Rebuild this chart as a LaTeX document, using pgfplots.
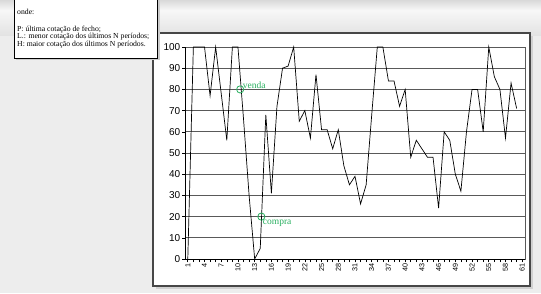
\documentclass[border=0pt]{standalone}
\usepackage{pgfplots}
\pgfplotsset{compat=1.18}
\usepackage{fontspec}
\setmainfont{Liberation Serif}
\newfontfamily\arial{Liberation Sans}
\definecolor{sig}{RGB}{40,175,95}
\pgfplotstableread{
n v
1 0
2 100
3 100
4 100
5 77
6 100
7 78
8 56
9 100
10 100
11 66
12 30
13 0
14 5
15 68
16 31
17 72
18 90
19 91
20 100
21 65
22 70
23 57
24 87
25 61
26 61
27 52
28 61
29 44
30 35
31 39
32 26
33 35
34 68
35 100
36 100
37 84
38 84
39 72
40 80
41 48
42 56
43 52
44 48
45 48
46 24
47 60
48 56
49 40
50 32
51 60
52 80
53 80
54 60
55 100
56 86
57 80
58 57
59 83
60 71
}\datatable
\begin{document}
\begin{tikzpicture}[x=1pt,y=1pt]
\useasboundingbox (0,0) rectangle (541,293);
% background
\fill[black!7] (0,0) rectangle (541,293);
\shade[top color=black!15, bottom color=black!3] (0,293) rectangle (541,283);
\shade[top color=black!3, bottom color=black!11] (0,283) rectangle (541,258);
% frame with shadow
\fill[black!18] (156,4) rectangle (533,257);
\draw[line width=1.4pt, black!72, fill=white] (153,7) rectangle (530,260);
\begin{axis}[
  at={(185pt,34pt)}, anchor=south west,
  width=340pt, height=212pt, scale only axis,
  xmin=0.5, xmax=61.5, ymin=0, ymax=100,
  xtick={1,4,...,61}, minor xtick={1,...,61},
  ytick={0,10,...,100},
  xtick pos=bottom, ytick pos=left,
  tick align=outside,
  major tick length=3pt, minor tick length=3pt,
  tick style={black, line width=0.6pt},
  ymajorgrids, grid style={black!65, line width=0.8pt},
  axis line style={black!65, line width=0.8pt},
  /pgf/number format/assume math mode=true,
  xticklabel style={rotate=90, anchor=east, font=\arial\fontsize{7.2}{7.2}\selectfont, inner sep=1.5pt},
  yticklabel style={font=\arial\fontsize{10}{10}\selectfont, inner sep=1.5pt},
  clip=false,
]
\draw[black, line width=1pt] (axis cs:0.5,100) -- (axis cs:0.5,0) -- (axis cs:61.5,0);
\addplot[black, line width=0.7pt, no marks] table[x=n, y=v] {\datatable};
\addplot[only marks, mark=o, mark size=3.6pt, sig, mark options={line width=0.8pt}] coordinates {(10.4,80) (14.2,20)};
\node[anchor=west, text=sig, font=\fontsize{9.5}{9.5}\selectfont, inner sep=0pt] at (axis cs:10.85,82) {venda};
\node[anchor=north west, text=sig, font=\fontsize{9.5}{9.5}\selectfont, inner sep=0pt] at (axis cs:14.45,18.7) {compra};
\end{axis}
% text box
\fill[black!20] (16,233) rectangle (160,300);
\draw[fill=white, line width=0.6pt] (14,235) rectangle (157,300);
\begin{scope}[font=\fontsize{7.7}{7.7}\selectfont]
\node[anchor=base west, inner sep=0pt] at (17,278.5) {onde:};
\node[anchor=base west, inner sep=0pt] at (17,262) {P: última cotação de fecho;};
\node[anchor=base west, inner sep=0pt] at (17,254.5) {L.: menor cotação dos últimos N períodos;};
\node[anchor=base west, inner sep=0pt] at (17,247) {H: maior cotação dos últimos N períodos.};
\end{scope}
\end{tikzpicture}
\end{document}
